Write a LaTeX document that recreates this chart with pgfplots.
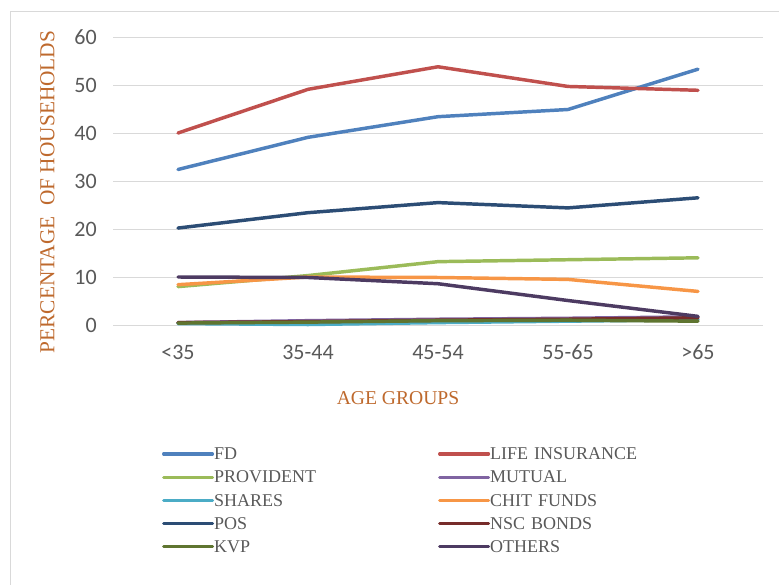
\documentclass[border=0pt]{standalone}
\usepackage{pgfplots}
\usepackage{pgfplotstable}
\pgfplotsset{compat=1.18}
\usepackage{fontspec}
\setmainfont{Liberation Serif}
\newfontfamily\tickfont{Carlito}

\definecolor{cFD}{HTML}{4F81BD}
\definecolor{cLIFE}{HTML}{C0504D}
\definecolor{cPROV}{HTML}{9BBB59}
\definecolor{cMUT}{HTML}{8064A2}
\definecolor{cSHARES}{HTML}{4BACC6}
\definecolor{cCHIT}{HTML}{F79646}
\definecolor{cPOS}{HTML}{2C4D75}
\definecolor{cNSC}{HTML}{772C2A}
\definecolor{cKVP}{HTML}{5F7530}
\definecolor{cOTH}{HTML}{4D3B62}
\definecolor{gridgray}{HTML}{D9D9D9}
\definecolor{labgray}{HTML}{595959}
\definecolor{titlebrown}{RGB}{190,105,45}

% Share of households holding each kind of saving, by age group
\pgfplotstableread{
x FD   LIFE PROV MUT SHARES CHIT POS  NSC KVP OTH
0 32.4 40.0 8.0  0.5 0.3    8.4  20.2 0.5 0.4 10.0
1 39.1 49.1 10.3 0.9 0.1    10.0 23.4 0.7 0.6 9.9
2 43.4 53.8 13.2 1.2 0.5    9.9  25.5 1.0 0.9 8.6
3 44.9 49.7 13.6 1.4 0.8    9.5  24.4 1.2 1.0 5.1
4 53.3 48.9 14.0 1.7 1.1    7.0  26.5 1.5 0.8 1.8
}\savings

\begin{document}
\begin{tikzpicture}
\useasboundingbox (0pt,0pt) rectangle (584.25pt,-438.75pt);
\draw[gridgray, line width=0.75pt] (7.5pt,-9pt) rectangle (600pt,-460pt);
\begin{axis}[
  at={(84.75pt,-243.75pt)}, anchor=south west,
  scale only axis, width=487.5pt, height=216pt,
  xmin=-0.5, xmax=4.5, ymin=0, ymax=60,
  xtick={0,1,2,3,4},
  xticklabels={<35,35-44,45-54,55-65,>65},
  ytick={0,10,...,60},
  ymajorgrids,
  major grid style={gridgray, line width=0.75pt},
  axis line style={draw=none},
  major tick length=0pt,
  clip=false,
  /pgf/number format/assume math mode=true,
  ticklabel style={font=\tickfont\fontsize{16.5pt}{18pt}\selectfont, text=labgray, inner sep=0pt},
  yticklabel style={anchor=east},
  yticklabel shift=12pt,
  xticklabel style={anchor=base},
  xticklabel shift=25.5pt,
  ylabel={PERCENTAGE\ \ OF HOUSEHOLDS},
  xlabel={AGE GROUPS},
  every axis y label/.style={at={(axis description cs:-0.1008,0.4618)}, anchor=center, rotate=90,
    font=\fontsize{16pt}{18pt}\selectfont, text=titlebrown},
  every axis x label/.style={at={(axis description cs:0.4385,-0.2552)}, anchor=center,
    font=\fontsize{14.7pt}{17pt}\selectfont, text=titlebrown},
  legend columns=2,
  legend cell align=left,
  legend image code/.code={\draw[#1, line width=2.3pt, line cap=round] (0pt,0pt) -- (36.75pt,0pt);},
  legend style={at={(axis description cs:0.0754,-0.4076)}, anchor=north west,
    draw=none, fill=none, inner sep=0pt, outer sep=0pt, row sep=0pt,
    font=\fontsize{13.5pt}{16pt}\selectfont, text=labgray,
    nodes={inner xsep=0pt, inner ysep=0pt, text height=13.0pt, text depth=4.4pt, text width=168pt, anchor=west}},
  every axis plot/.append style={line width=2.6pt, line join=round, line cap=round, mark=none},
]
\addplot[cFD]     table[x=x,y=FD]     {\savings}; \addlegendentry{FD}
\addplot[cLIFE]   table[x=x,y=LIFE]   {\savings}; \addlegendentry{LIFE INSURANCE}
\addplot[cPROV]   table[x=x,y=PROV]   {\savings}; \addlegendentry{PROVIDENT}
\addplot[cMUT]    table[x=x,y=MUT]    {\savings}; \addlegendentry{MUTUAL}
\addplot[cSHARES] table[x=x,y=SHARES] {\savings}; \addlegendentry{SHARES}
\addplot[cCHIT]   table[x=x,y=CHIT]   {\savings}; \addlegendentry{CHIT FUNDS}
\addplot[cPOS]    table[x=x,y=POS]    {\savings}; \addlegendentry{POS}
\addplot[cNSC]    table[x=x,y=NSC]    {\savings}; \addlegendentry{NSC BONDS}
\addplot[cKVP]    table[x=x,y=KVP]    {\savings}; \addlegendentry{KVP}
\addplot[cOTH]    table[x=x,y=OTH]    {\savings}; \addlegendentry{OTHERS}
\end{axis}
\end{tikzpicture}
\end{document}
